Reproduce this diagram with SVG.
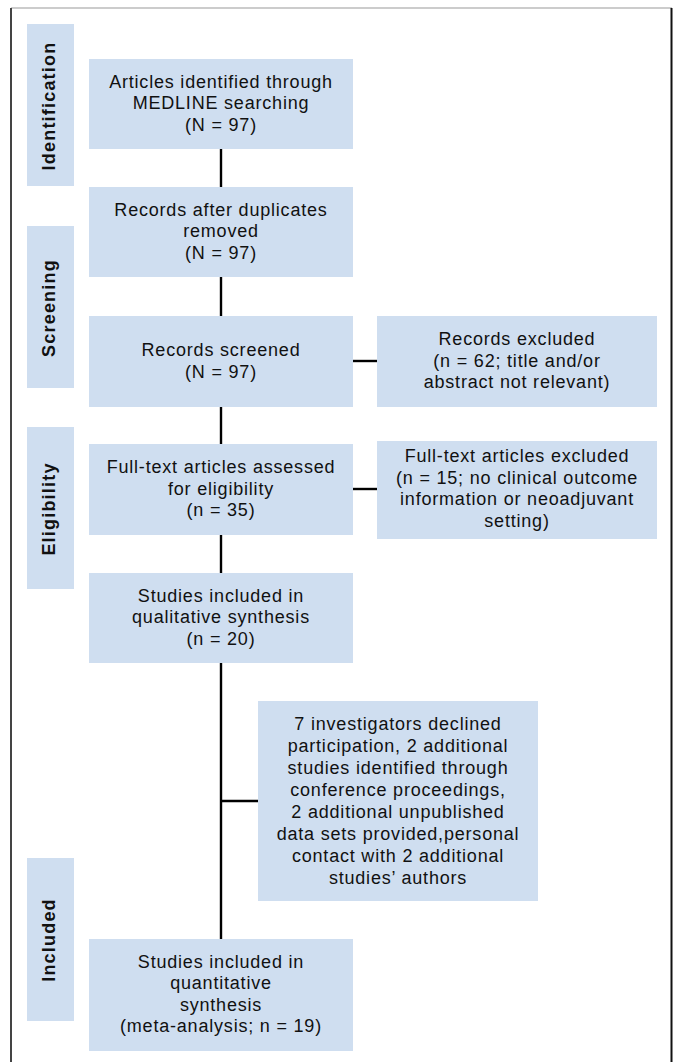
<svg xmlns="http://www.w3.org/2000/svg" width="676" height="1062" viewBox="0 0 676 1062">
<style>
.box{fill:#cfdef0;}
.t{font-family:"Liberation Sans",Arial,Helvetica,sans-serif;font-size:18px;letter-spacing:0.8px;fill:#111;text-anchor:middle;}
.lab{font-family:"Liberation Sans",Arial,Helvetica,sans-serif;font-size:18px;font-weight:bold;letter-spacing:1.2px;fill:#111;text-anchor:middle;}
.c{stroke:#000;stroke-width:2.4;fill:none;}
</style>
<rect width="676" height="1062" fill="#fff"/>
<g id="frame">
<line x1="11" y1="8" x2="672" y2="8" stroke="#9a9a9a" stroke-width="1.2"/>
<line x1="11" y1="8" x2="11" y2="1062" stroke="#444" stroke-width="2"/>
<line x1="671.5" y1="8" x2="671.5" y2="1062" stroke="#111" stroke-width="2"/>
</g>
<g id="label-identification"><rect class="box" x="27" y="24" width="47" height="162"/><text class="lab" transform="translate(55,106) rotate(-90)">Identification</text></g>
<g id="label-screening"><rect class="box" x="27" y="226" width="47" height="162"/><text class="lab" transform="translate(55,308) rotate(-90)">Screening</text></g>
<g id="label-eligibility"><rect class="box" x="27" y="427" width="47" height="162"/><text class="lab" transform="translate(55,509) rotate(-90)">Eligibility</text></g>
<g id="label-included"><rect class="box" x="27" y="858" width="47" height="163"/><text class="lab" transform="translate(55,940) rotate(-90)">Included</text></g>
<g id="connectors">
<line class="c" x1="221" y1="149" x2="221" y2="187"/>
<line class="c" x1="221" y1="277" x2="221" y2="316"/>
<line class="c" x1="221" y1="407" x2="221" y2="444"/>
<line class="c" x1="221" y1="535" x2="221" y2="573"/>
<line class="c" x1="221" y1="663" x2="221" y2="939"/>
<line class="c" x1="353" y1="361" x2="377" y2="361"/>
<line class="c" x1="353" y1="489" x2="377" y2="489"/>
<line class="c" x1="221" y1="801" x2="258" y2="801"/>
</g>
<g id="n1"><rect class="box" x="89" y="59" width="264" height="90"/>
<text class="t" x="221" y="87.5">Articles identified through</text>
<text class="t" x="221" y="109">MEDLINE searching</text>
<text class="t" x="221" y="130.5">(N = 97)</text></g>
<g id="n2"><rect class="box" x="89" y="187" width="264" height="90"/>
<text class="t" x="221" y="215.5">Records after duplicates</text>
<text class="t" x="221" y="237">removed</text>
<text class="t" x="221" y="258.5">(N = 97)</text></g>
<g id="n3"><rect class="box" x="89" y="316" width="264" height="91"/>
<text class="t" x="221" y="356">Records screened</text>
<text class="t" x="221" y="377.5">(N = 97)</text></g>
<g id="n3x"><rect class="box" x="377" y="316" width="280" height="91"/>
<text class="t" x="517" y="345">Records excluded</text>
<text class="t" x="517" y="366.5">(n = 62; title and/or</text>
<text class="t" x="517" y="388">abstract not relevant)</text></g>
<g id="n4"><rect class="box" x="89" y="444" width="264" height="91"/>
<text class="t" x="221" y="473">Full-text articles assessed</text>
<text class="t" x="221" y="494.5">for eligibility</text>
<text class="t" x="221" y="516">(n = 35)</text></g>
<g id="n4x"><rect class="box" x="377" y="441" width="280" height="98"/>
<text class="t" x="517" y="462">Full-text articles excluded</text>
<text class="t" x="517" y="483.5">(n = 15; no clinical outcome</text>
<text class="t" x="517" y="505">information or neoadjuvant</text>
<text class="t" x="517" y="526.5">setting)</text></g>
<g id="n5"><rect class="box" x="89" y="573" width="264" height="90"/>
<text class="t" x="221" y="601.5">Studies included in</text>
<text class="t" x="221" y="623">qualitative synthesis</text>
<text class="t" x="221" y="644.5">(n = 20)</text></g>
<g id="n5x"><rect class="box" x="258" y="701" width="280" height="200"/>
<text class="t" x="398" y="729.5">7 investigators declined</text>
<text class="t" x="398" y="751.6">participation, 2 additional</text>
<text class="t" x="398" y="773.7">studies identified through</text>
<text class="t" x="398" y="795.8">conference proceedings,</text>
<text class="t" x="398" y="817.9">2 additional unpublished</text>
<text class="t" x="398" y="840">data sets provided,personal</text>
<text class="t" x="398" y="862.1">contact with 2 additional</text>
<text class="t" x="398" y="884.2">studies’ authors</text></g>
<g id="n6"><rect class="box" x="89" y="939" width="264" height="112"/>
<text class="t" x="221" y="967.7">Studies included in</text>
<text class="t" x="221" y="989.3">quantitative</text>
<text class="t" x="221" y="1010.8">synthesis</text>
<text class="t" x="221" y="1032.3">(meta-analysis; n = 19)</text></g>
</svg>
